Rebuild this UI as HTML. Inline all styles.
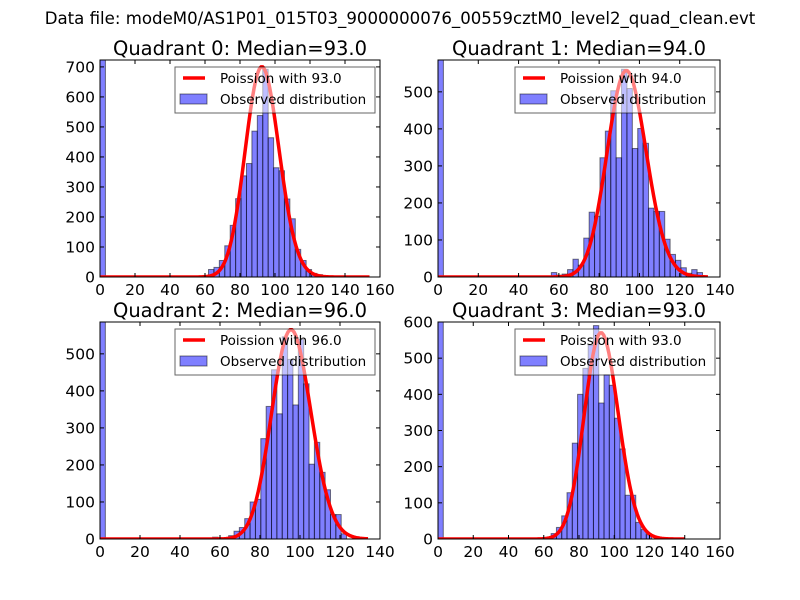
<!DOCTYPE html>
<html><head><meta charset="utf-8"><style>
body{margin:0;background:#fff}
svg{display:block;font-family:"DejaVu Sans","Liberation Sans",sans-serif}
</style></head><body>
<svg id="fig" width="800" height="600" viewBox="0 0 800 600" xmlns="http://www.w3.org/2000/svg">
<rect width="800" height="600" fill="#fff"/>
<text x="400" y="24" font-size="16.6" text-anchor="middle">Data file: modeM0/AS1P01_015T03_9000000076_00559cztM0_level2_quad_clean.evt</text>
</svg>
<script>
// Quadrant data (counts per bin, starting at startBin)
const q0Counts=[25,32,55,104,172,261,337,378,486,538,692,464,364,354,260,194,92,55,25,12,8];
const q1Counts=[12,5,8,20,48,32,105,175,164,322,394,503,322,561,509,347,401,361,186,177,177,102,61,45,25,10,20,12];
const q2Counts=[5,3,0,9,21,31,55,100,107,271,358,457,338,546,485,362,539,419,202,261,180,133,66,66,14];
const q3Counts=[15,32,64,128,265,400,472,536,590,376,454,425,334,249,121,121,46,26,12];
const zeroBin=[750,600,600,620];
const startBins=[20,21,21,21.4];
const binWidths=[3.1,2.68,2.68,3.0];
const medians=[93,94,96,93];
const poissonPeaks=[700,557,565,570];
const curveMax=[154,134,134,140];
const xMaxes=[160,140,140,160];
const yMaxes=[723,586,586,600];
const yTickLabels=[[0,100,200,300,400,500,600,700],[0,100,200,300,400,500],[0,100,200,300,400,500],[0,100,200,300,400,500,600]];
const counts=[q0Counts,q1Counts,q2Counts,q3Counts];

const NS='http://www.w3.org/2000/svg';
const fig=document.getElementById('fig');
const boxes=[[100,60,380,277],[438,60,720,277],[100,322,380,539],[438,322,720,539]];
function mk(tag,attrs,parent){const e=document.createElementNS(NS,tag);for(const k in attrs)e.setAttribute(k,attrs[k]);(parent||fig).appendChild(e);return e;}
function logFact(n){let s=0;for(let i=2;i<=n;i++)s+=Math.log(i);return s;}

for(let p=0;p<4;p++){
  const [L,T,R,B]=boxes[p];
  const xs=v=>L+(R-L)*v/xMaxes[p];
  const ys=v=>B-(B-T)*v/yMaxes[p];
  const g=mk('g',{});
  
  
  const cid='clip'+p;
  const cp=mk('clipPath',{id:cid},g);mk('rect',{x:L,y:T,width:R-L,height:B-T},cp);
  const plot=mk('g',{'clip-path':'url(#'+cid+')'},g);
  const bw=binWidths[p];
  const drawBar=(i,v,name)=>{
    const x0=xs(i*bw),x1=xs((i+1)*bw);
    const r=mk('rect',{x:x0,y:ys(v),width:x1-x0,height:B-ys(v),fill:'#0000ff','fill-opacity':0.5,stroke:'#000','stroke-opacity':0.5,'stroke-width':1},plot);
    
    
  };
  drawBar(0,zeroBin[p],'bar-zero-bin');
  counts[p].forEach((v,j)=>{ if(v>0) drawBar(startBins[p]+j,v,'histogram-bar'); });
  const lam=medians[p];
  const peakK=Math.floor(lam);
  const pmf=k=>Math.exp(-lam+k*Math.log(lam)-logFact(k));
  const scale=poissonPeaks[p]/pmf(peakK);
  let d='';
  for(let k=0;k<=curveMax[p];k++){d+=(k?'L':'M')+xs(k).toFixed(2)+','+ys(pmf(k)*scale).toFixed(2);}
  const line=mk('path',{d:d,fill:'none',stroke:'#ff0000','stroke-width':3.5,'stroke-linejoin':'round'},plot);
  
  
  const fr=mk('rect',{x:L,y:T,width:R-L,height:B-T,fill:'none',stroke:'#000','stroke-width':1},g);
  
  
  for(let v=0;v<=xMaxes[p];v+=20){
    const x=xs(v);
    mk('line',{x1:x,y1:B,x2:x,y2:B-4,stroke:'#000'},g);
    mk('line',{x1:x,y1:T,x2:x,y2:T+4,stroke:'#000'},g);
    const t=mk('text',{x:x,y:B+18,'font-size':15.5,'text-anchor':'middle'},g);
    t.textContent=v;
    
    
  }
  yTickLabels[p].forEach(v=>{
    const y=ys(v);
    mk('line',{x1:L,y1:y,x2:L+4,y2:y,stroke:'#000'},g);
    mk('line',{x1:R,y1:y,x2:R-4,y2:y,stroke:'#000'},g);
    const t=mk('text',{x:L-5,y:y+5.5,'font-size':15.5,'text-anchor':'end'},g);
    t.textContent=v;
    
    
  });
  const title=mk('text',{x:(L+R)/2,y:T-5,'font-size':19.5,'text-anchor':'middle'},g);
  title.textContent='Quadrant '+p+': Median='+medians[p].toFixed(1);
  
  
  const lg=mk('g',{},g);
  
  
  const lx=R-205,ly=T+7;
  mk('rect',{x:lx,y:ly,width:200,height:46,fill:'#fff','fill-opacity':0.5,stroke:'#000','stroke-opacity':0.6},lg);
  mk('line',{x1:lx+8,y1:ly+11,x2:lx+30,y2:ly+11,stroke:'#ff0000','stroke-width':3.5},lg);
  const t1=mk('text',{x:lx+45,y:ly+16,'font-size':13.5},lg);
  t1.textContent='Poission with '+medians[p].toFixed(1);
  
  
  mk('rect',{x:lx+5,y:ly+27,width:27,height:10,fill:'#0000ff','fill-opacity':0.5,stroke:'#000','stroke-opacity':0.5},lg);
  const t2=mk('text',{x:lx+45,y:ly+37,'font-size':13.5},lg);
  t2.textContent='Observed distribution';
  
  
}
</script>
</body></html>
